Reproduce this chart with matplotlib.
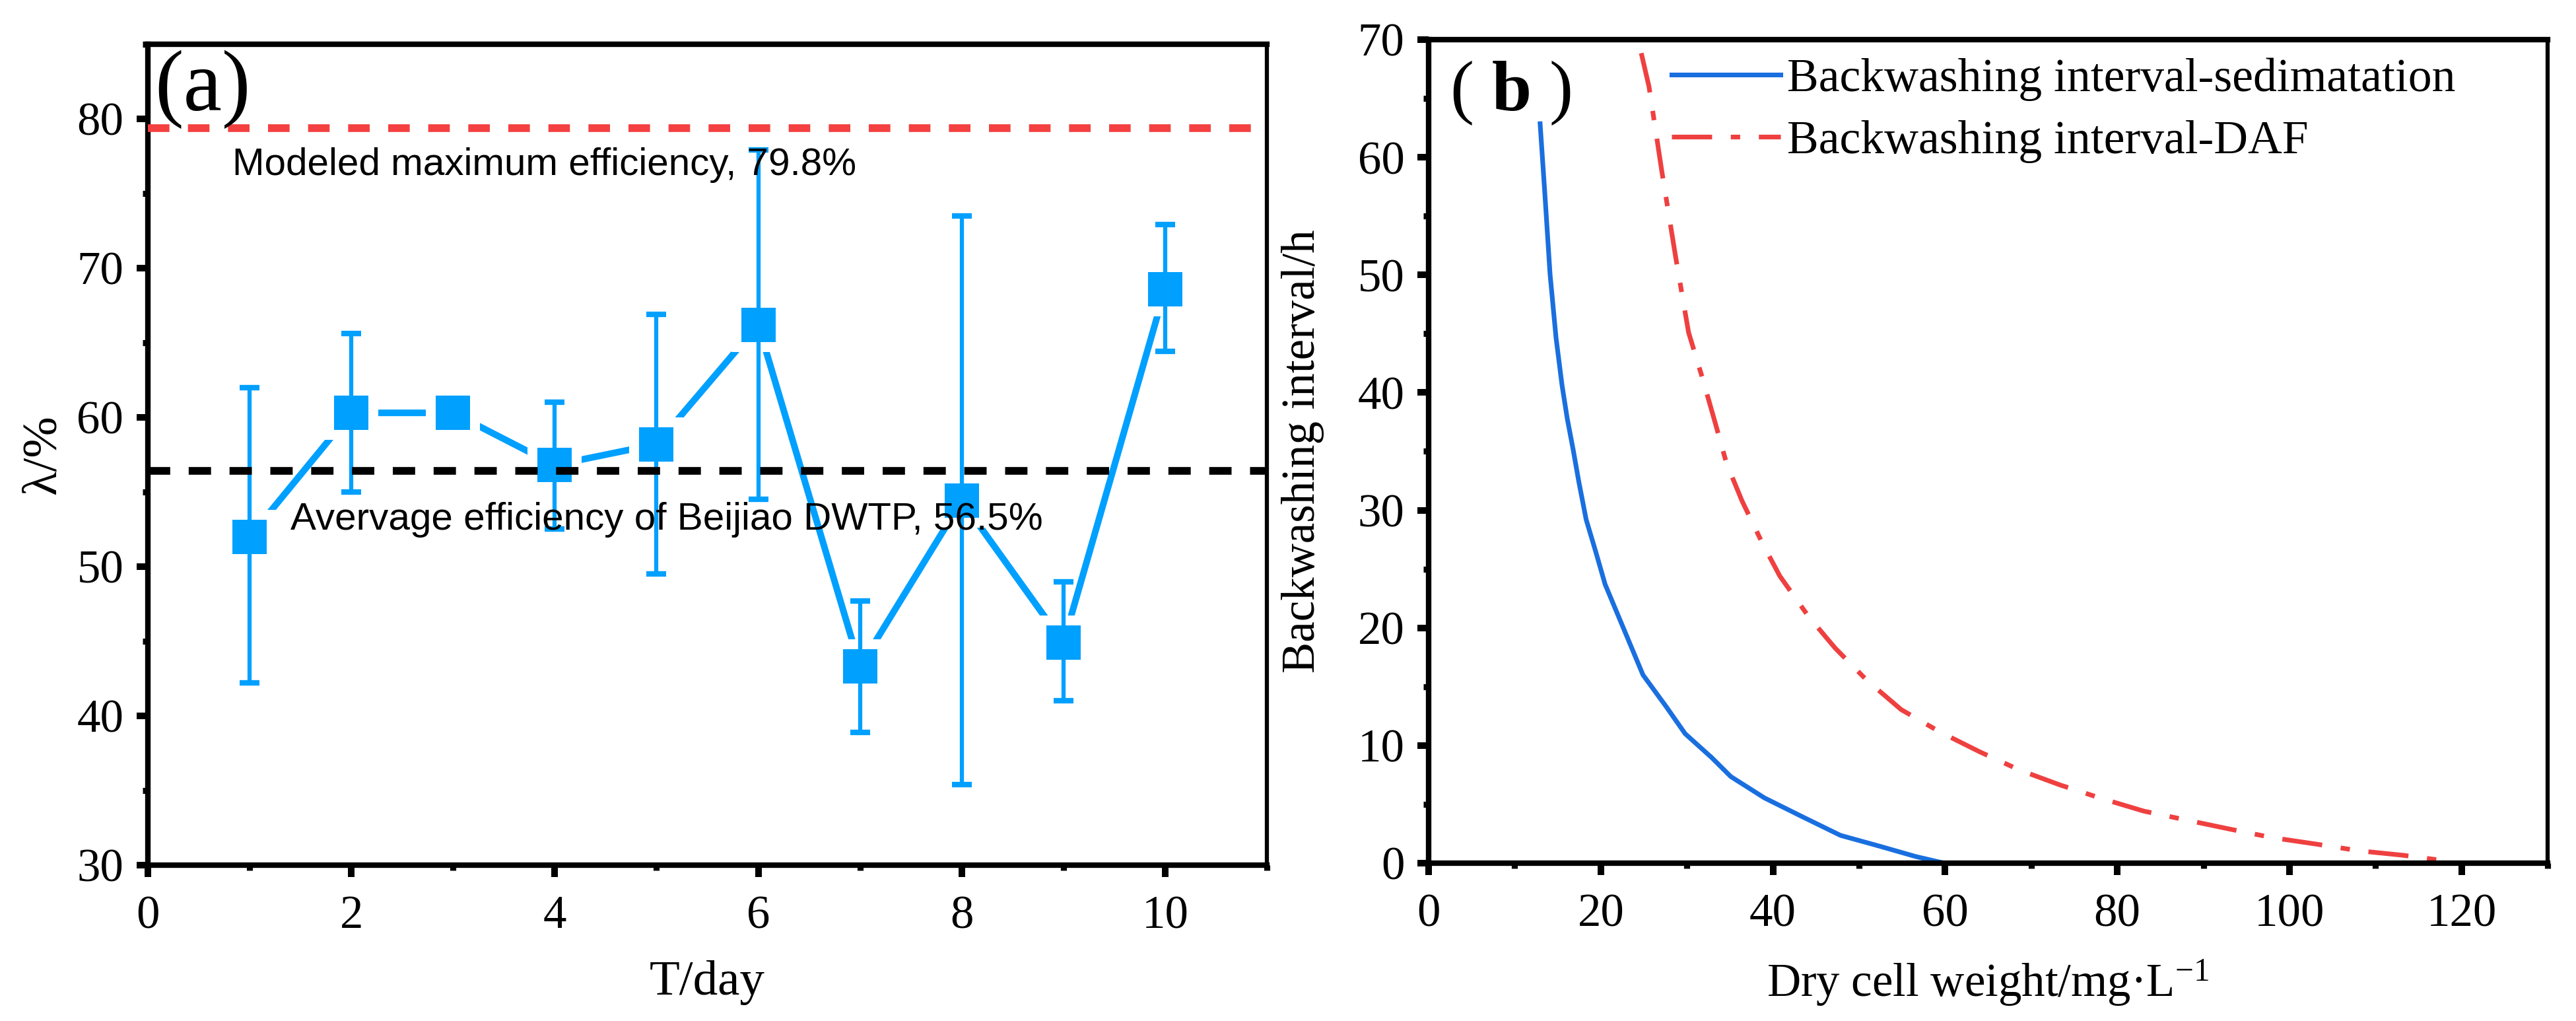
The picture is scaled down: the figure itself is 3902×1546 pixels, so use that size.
import numpy as np
import matplotlib.pyplot as plt
from matplotlib.ticker import MultipleLocator

plt.rcParams['font.family'] = ['Liberation Serif', 'DejaVu Serif']
plt.rcParams['mathtext.fontset'] = 'custom'
plt.rcParams['mathtext.rm'] = 'Liberation Serif'
plt.rcParams['mathtext.it'] = 'Liberation Serif:italic'
plt.rcParams['mathtext.bf'] = 'Liberation Serif:bold'

# (a) efficiency per day, with lower / upper error bar ends
days = [1, 2, 3, 4, 5, 6, 7, 8, 9, 10]
eff_mean = [52.0, 60.3, 60.3, 56.8, 58.2, 66.2, 43.3, 54.4, 44.9, 68.6]
eff_low = [42.2, 55.0, 60.3, 52.5, 49.5, 54.5, 38.9, 35.4, 41.0, 64.4]
eff_high = [62.0, 65.6, 60.3, 61.0, 66.9, 77.9, 47.7, 73.5, 49.0, 72.9]
model_max = 79.4
plant_avg = 56.4

# (b) backwashing interval vs dry cell weight
dcw_sed = [12.95, 13.5, 14.1, 14.8, 15.5, 16.1, 16.8, 17.45, 18.3, 19.4, 20.5,
           22.3, 24.9, 27.6, 29.8, 32.9, 35.1, 39.0, 43.4, 47.85, 52.3, 56.6, 59.9]
interval_sed = [62.85, 56.9, 50.1, 44.65, 40.6, 37.8, 35.1, 32.4, 29.2, 26.5, 23.7,
                20.55, 16.0, 13.3, 11.0, 8.96, 7.36, 5.55, 3.95, 2.36, 1.46, 0.56, 0.0]
dcw_daf = [24.7, 25.6, 27.1, 28.7, 30.2, 31.8, 33.3, 34.6, 36.4, 38.8, 40.8, 44.1,
           47.2, 50.9, 54.9, 59.4, 64.0, 68.7, 73.3, 78.2, 83.1, 88.0, 92.9, 98.0,
           103.2, 108.1, 113.2, 118.1, 118.9]
interval_daf = [68.85, 66.0, 58.75, 51.5, 45.1, 41.25, 37.4, 34.0, 30.8, 27.15, 24.4,
                21.0, 18.3, 15.55, 13.05, 11.15, 9.47, 7.9, 6.66, 5.49, 4.42, 3.67,
                2.92, 2.17, 1.61, 1.05, 0.67, 0.2, 0.0]

fig = plt.figure(figsize=(3902 / 300, 1546 / 300), dpi=300)
ax1 = fig.add_axes([0.0574, 0.1527, 0.4344, 0.804])
ax2 = fig.add_axes([0.5546, 0.1546, 0.4344, 0.8066])


def style_axes(ax):
    for side in ['left', 'bottom', 'top']:
        ax.spines[side].set_linewidth(2.0)
    ax.spines['right'].set_linewidth(1.5)
    ax.tick_params(which='major', direction='out', length=4.2, width=2.4,
                   labelsize=17)
    ax.tick_params(which='minor', direction='out', length=2.0, width=2.2)
    ax.tick_params(axis='x', which='both', pad=6.7)
    ax.tick_params(axis='y', which='both', pad=4.6)


# ---- panel (a)
blue = '#00A0FF'
mean = np.array(eff_mean)
yerr = [mean - np.array(eff_low), np.array(eff_high) - mean]

ax1.plot(days, eff_mean, color=blue, lw=2.4, zorder=2)
# white halo so the line stops short of the markers
ax1.plot(days, eff_mean, ls='none', marker='s', ms=19.5, mfc='white',
         mec='none', zorder=2.5)
ax1.errorbar(days, eff_mean, yerr=yerr, fmt='none', ecolor=blue,
             elinewidth=1.5, capsize=3.5, capthick=2, zorder=3)
ax1.plot(days, eff_mean, ls='none', marker='s', ms=12.3, mfc=blue, mec='none',
         zorder=4)
ax1.axhline(model_max, color='#F44040', lw=2.8, dashes=(2.8, 2.4), zorder=5)
ax1.axhline(plant_avg, color='black', lw=2.8, dashes=(2.9, 2.4), zorder=5)

ax1.text(0.065, 84.6, '(a)', fontsize=31.5, va='top', ha='left', zorder=6)
ax1.text(0.834, 76.24, 'Modeled maximum efficiency, 79.8%',
         family='Liberation Sans', fontsize=14, va='baseline', zorder=6)
ax1.text(1.40, 52.47, 'Avervage efficiency of Beijiao DWTP, 56.5%',
         family='Liberation Sans', fontsize=14, va='baseline', zorder=6)

ax1.set_xlim(0, 11)
ax1.set_ylim(30, 85)
ax1.xaxis.set_major_locator(MultipleLocator(2))
ax1.xaxis.set_minor_locator(MultipleLocator(1))
ax1.yaxis.set_major_locator(MultipleLocator(10))
ax1.yaxis.set_minor_locator(MultipleLocator(5))
ax1.set_xlabel('T/day', fontsize=18, labelpad=8)
ax1.set_ylabel('λ/%', fontsize=18, labelpad=4)
style_axes(ax1)

# ---- panel (b)
ax2.plot(dcw_sed, interval_sed, color='#1A6FDF', lw=1.7,
         label='Backwashing interval-sedimatation')
ax2.plot(dcw_daf, interval_daf, color='#EF4040', lw=1.7,
         dashes=(8.6, 4, 2, 4), label='Backwashing interval-DAF')

ax2.text(2.46, 68.3, r'( $\mathbf{b}$ )', fontsize=26, va='top', ha='left')
ax2.legend(loc='upper left', bbox_to_anchor=(0.217, 0.978), frameon=False,
           fontsize=17.2, handlelength=2.3, handletextpad=0.15,
           labelspacing=0.4, borderpad=0, borderaxespad=0)

ax2.set_xlim(0, 130)
ax2.set_ylim(0, 70)
ax2.xaxis.set_major_locator(MultipleLocator(20))
ax2.xaxis.set_minor_locator(MultipleLocator(10))
ax2.yaxis.set_major_locator(MultipleLocator(10))
ax2.yaxis.set_minor_locator(MultipleLocator(5))
ax2.set_xlabel(r'Dry cell weight/mg·L$^{-1}$', fontsize=17, labelpad=8)
ax2.set_ylabel('Backwashing interval/h', fontsize=17, labelpad=12)
style_axes(ax2)

fig.savefig('out.png', dpi=300)
